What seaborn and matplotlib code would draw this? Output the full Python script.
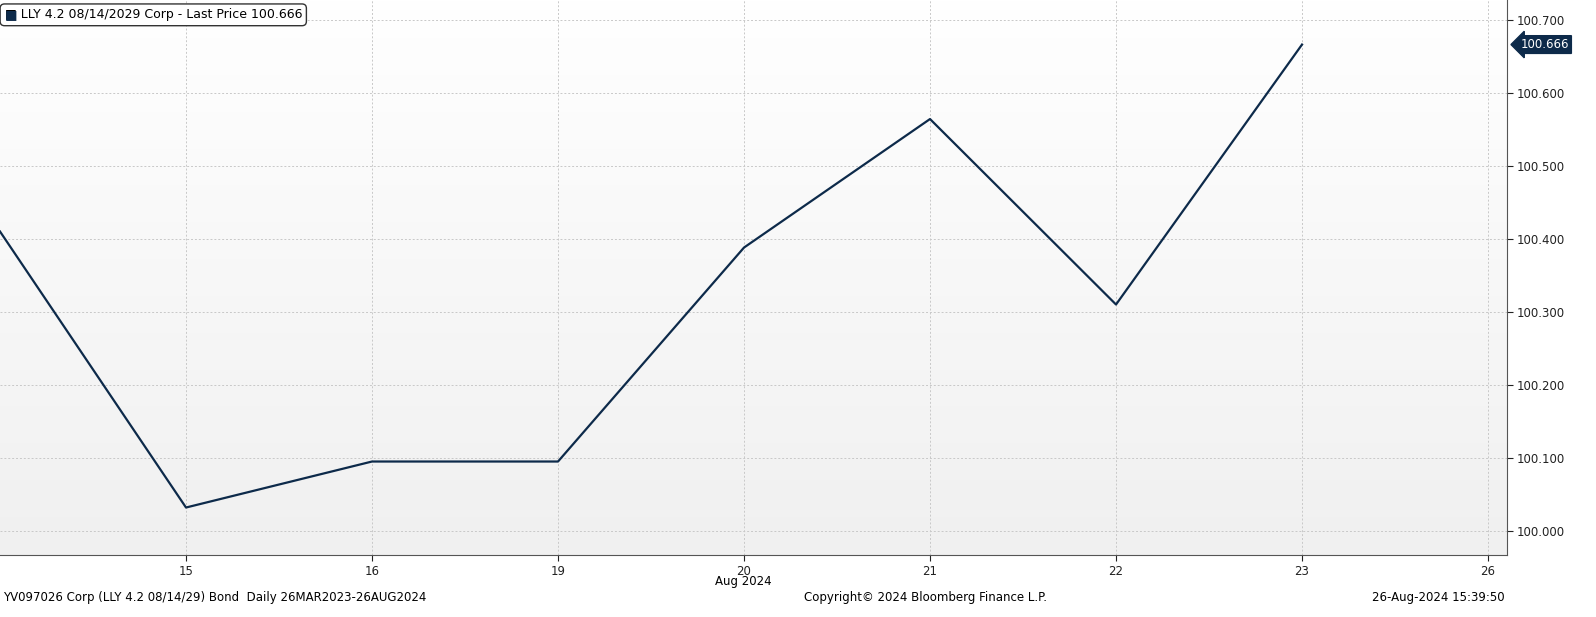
import matplotlib
matplotlib.use("Agg")
import matplotlib.pyplot as plt
import seaborn as sns
import numpy as np
import pandas as pd

days = ["14", "15", "16", "19", "20", "21", "22", "23", "26"]
prices = [100.410, 100.032, 100.095, 100.095, 100.388, 100.564, 100.310, 100.666]
yticks = [100.0, 100.1, 100.2, 100.3, 100.4, 100.5, 100.6, 100.7]
line_color = "#0d2a4a"

df = pd.DataFrame({"pos": np.arange(len(prices)), "price": prices})

fig = plt.figure(figsize=(15.96, 6.17), dpi=100)
ax = fig.add_axes([0.0, 0.1005, 0.944, 0.8995])
ax.set_xlim(0, 8.1)
ax.set_ylim(99.967, 100.727)
grad = np.linspace(0, 1, 256).reshape(-1, 1)
ax.imshow(grad, extent=[0, 8.1, 99.967, 100.727], aspect="auto",
          cmap=matplotlib.colors.LinearSegmentedColormap.from_list("g", ["#f0f0f0", "#ffffff"]),
          origin="lower", zorder=0)
sns.lineplot(data=df, x="pos", y="price", ax=ax, color=line_color, lw=1.6, zorder=3)
ax.set_xticks(range(1, 9))
ax.set_xticklabels(days[1:])
ax.yaxis.tick_right()
ax.set_yticks(yticks)
ax.set_yticklabels([f"{v:.3f}" for v in yticks])
ax.tick_params(labelsize=8.5, colors="#222222", length=4)
ax.tick_params(axis="x", pad=3)
ax.grid(True, color="#c8c8c8", ls=(0, (2, 2)), lw=0.7, zorder=1)
ax.set_xlabel(""); ax.set_ylabel("")
for s in ["top", "left"]:
    ax.spines[s].set_visible(False)
ax.spines["right"].set_color("#555555")
ax.spines["bottom"].set_color("#555555")
fig.text(743 / 1596, 1 - 582 / 617, "Aug 2024", ha="center", va="center", fontsize=8.5)

ax.annotate(f"{prices[-1]:.3f}", xy=(1.0, prices[-1]), xycoords=("axes fraction", "data"),
            xytext=(10, 0), textcoords="offset points", ha="left", va="center",
            fontsize=8.5, color="white",
            bbox=dict(boxstyle="larrow,pad=0.2", fc=line_color, ec=line_color))

ax.text(0.003, 0.985, "\u25a0", color=line_color,
        transform=ax.transAxes, ha="left", va="top", fontsize=9.5, zorder=6)
ax.text(0.003, 0.985, "\u25a0 LLY 4.2 08/14/2029 Corp - Last Price 100.666",
        transform=ax.transAxes, ha="left", va="top", fontsize=9, zorder=5,
        bbox=dict(boxstyle="round,pad=0.35", fc="white", ec="#333333"))

fig.text(0.002, 1 - 598 / 617, "YV097026 Corp (LLY 4.2 08/14/29) Bond  Daily 26MAR2023-26AUG2024",
         ha="left", va="center", fontsize=8.5)
fig.text(925 / 1596, 1 - 598 / 617, "Copyright\u00a9 2024 Bloomberg Finance L.P.",
         ha="center", va="center", fontsize=8.5)
fig.text(0.943, 1 - 598 / 617, "26-Aug-2024 15:39:50", ha="right", va="center", fontsize=8.5)
fig.savefig("out.png", dpi=100)
